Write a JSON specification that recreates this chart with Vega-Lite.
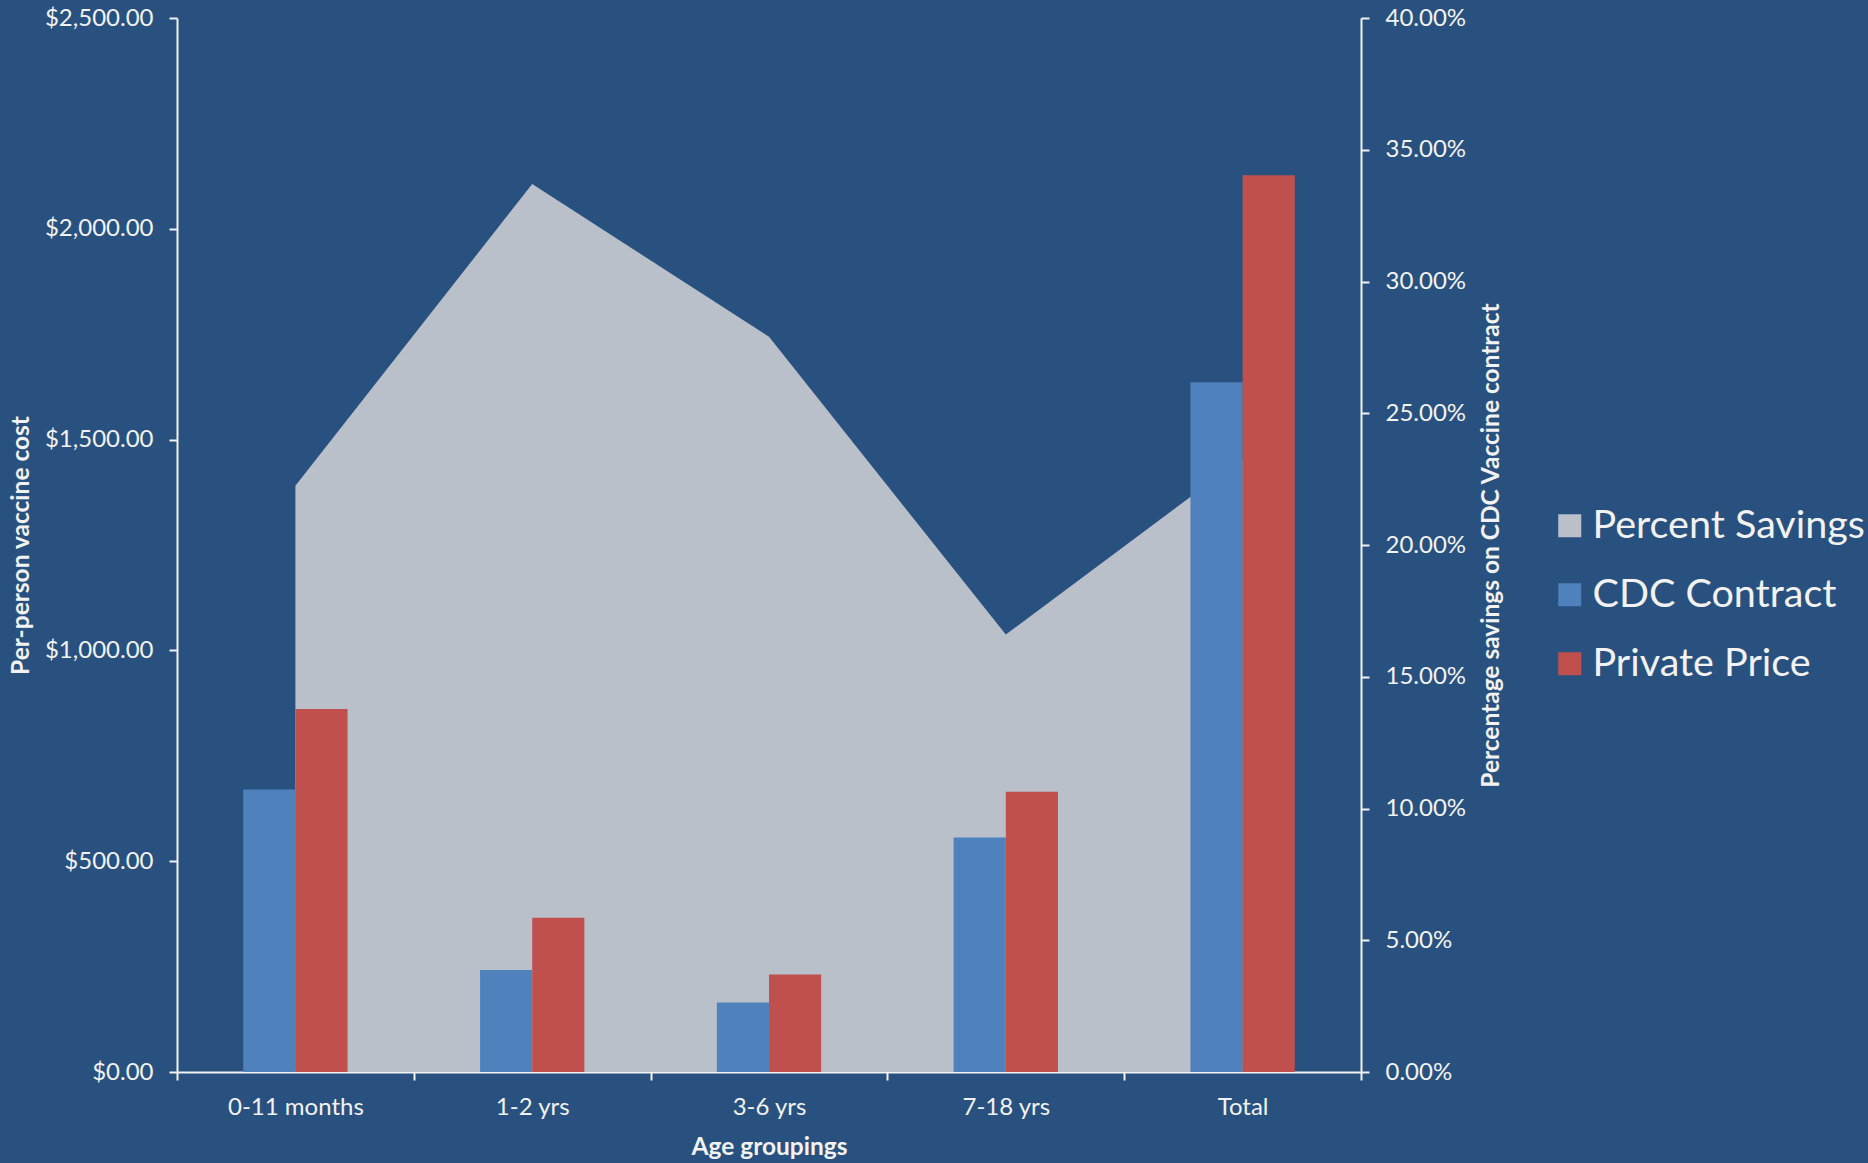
{
  "$schema": "https://vega.github.io/schema/vega-lite/v6.json",
  "autosize": {"type": "none"},
  "width": 1184,
  "height": 1054,
  "padding": {"left": 177, "top": 18, "right": 507, "bottom": 91},
  "background": "#29517f",
  "config": {
    "view": {"stroke": null},
    "font": "Lato",
    "axis": {
      "domainColor": "#f2f2f2",
      "domainWidth": 2,
      "tickColor": "#f2f2f2",
      "tickWidth": 2,
      "tickSize": 8,
      "labelColor": "#f2f2f2",
      "labelFont": "Lato",
      "labelFontSize": 24,
      "titleColor": "#f2f2f2",
      "titleFont": "Lato",
      "titleFontSize": 24.5,
      "titleFontWeight": "bold",
      "grid": false
    }
  },
  "data": {
    "values": [
      {"group": "0-11 months", "series": "CDC Contract", "value": 670},
      {"group": "0-11 months", "series": "Private Price", "value": 861},
      {"group": "0-11 months", "series": "Percent Savings", "value": 0.2225},
      {"group": "1-2 yrs", "series": "CDC Contract", "value": 242},
      {"group": "1-2 yrs", "series": "Private Price", "value": 366},
      {"group": "1-2 yrs", "series": "Percent Savings", "value": 0.337},
      {"group": "3-6 yrs", "series": "CDC Contract", "value": 165},
      {"group": "3-6 yrs", "series": "Private Price", "value": 231},
      {"group": "3-6 yrs", "series": "Percent Savings", "value": 0.279},
      {"group": "7-18 yrs", "series": "CDC Contract", "value": 556},
      {"group": "7-18 yrs", "series": "Private Price", "value": 665},
      {"group": "7-18 yrs", "series": "Percent Savings", "value": 0.166},
      {"group": "Total", "series": "CDC Contract", "value": 1636},
      {"group": "Total", "series": "Private Price", "value": 2127},
      {"group": "Total", "series": "Percent Savings", "value": 0.233}
    ]
  },
  "layer": [
    {
      "transform": [{"filter": "datum.series === 'Percent Savings'"}],
      "mark": {"type": "area", "interpolate": "linear"},
      "encoding": {
        "x": {
          "field": "group", "type": "nominal", "sort": null, "bandPosition": 0.5,
          "scale": {"paddingInner": 0, "paddingOuter": 0},
          "axis": {"title": "Age groupings", "labelAngle": 0, "tickBand": "extent", "labelPadding": 15, "titleY": 75, "titleBaseline": "middle"}
        },
        "y": {
          "field": "value", "type": "quantitative",
          "scale": {"domain": [0, 0.4], "nice": false},
          "axis": {
            "orient": "right", "title": "Percentage savings on CDC Vaccine contract",
            "format": ".2%", "values": [0, 0.05, 0.1, 0.15, 0.2, 0.25, 0.3, 0.35, 0.4],
            "labelPadding": 16, "titleAngle": 270, "titleX": 130, "titleY": 527,
            "titleAlign": "center", "titleBaseline": "middle"
          }
        },
        "color": {
          "field": "series", "type": "nominal",
          "scale": {"domain": ["Percent Savings", "CDC Contract", "Private Price"], "range": ["#b9c0ca", "#4f81bd", "#c0504d"]},
          "legend": {
            "title": null, "orient": "none", "legendX": 1373, "legendY": 488,
            "symbolType": "square", "symbolSize": 529, "symbolStrokeWidth": 0,
            "labelFontSize": 39.5, "labelColor": "#f2f2f2", "labelFont": "Lato",
            "labelOffset": 3, "rowPadding": 28, "labelLimit": 400
          }
        }
      }
    },
    {
      "transform": [{"filter": "datum.series !== 'Percent Savings'"}],
      "mark": {"type": "bar"},
      "encoding": {
        "x": {
          "field": "group", "type": "nominal", "sort": null,
          "scale": {"paddingInner": 0, "paddingOuter": 0},
          "axis": {"title": "Age groupings", "labelAngle": 0, "tickBand": "extent", "labelPadding": 15, "titleY": 75, "titleBaseline": "middle"}
        },
        "xOffset": {
          "field": "series", "type": "nominal",
          "scale": {"domain": ["pad-a", "CDC Contract", "Private Price", "pad-b"], "paddingInner": 0, "paddingOuter": 0.27}
        },
        "y": {
          "field": "value", "type": "quantitative",
          "scale": {"domain": [0, 2500], "nice": false},
          "axis": {
            "orient": "left", "title": "Per-person vaccine cost",
            "format": "$,.2f", "values": [0, 500, 1000, 1500, 2000, 2500],
            "labelPadding": 16, "titleAngle": 270, "titleX": -156, "titleY": 527,
            "titleAlign": "center", "titleBaseline": "middle"
          }
        },
        "color": {"field": "series", "type": "nominal"}
      }
    }
  ],
  "resolve": {"scale": {"y": "independent"}, "axis": {"y": "independent"}}
}
